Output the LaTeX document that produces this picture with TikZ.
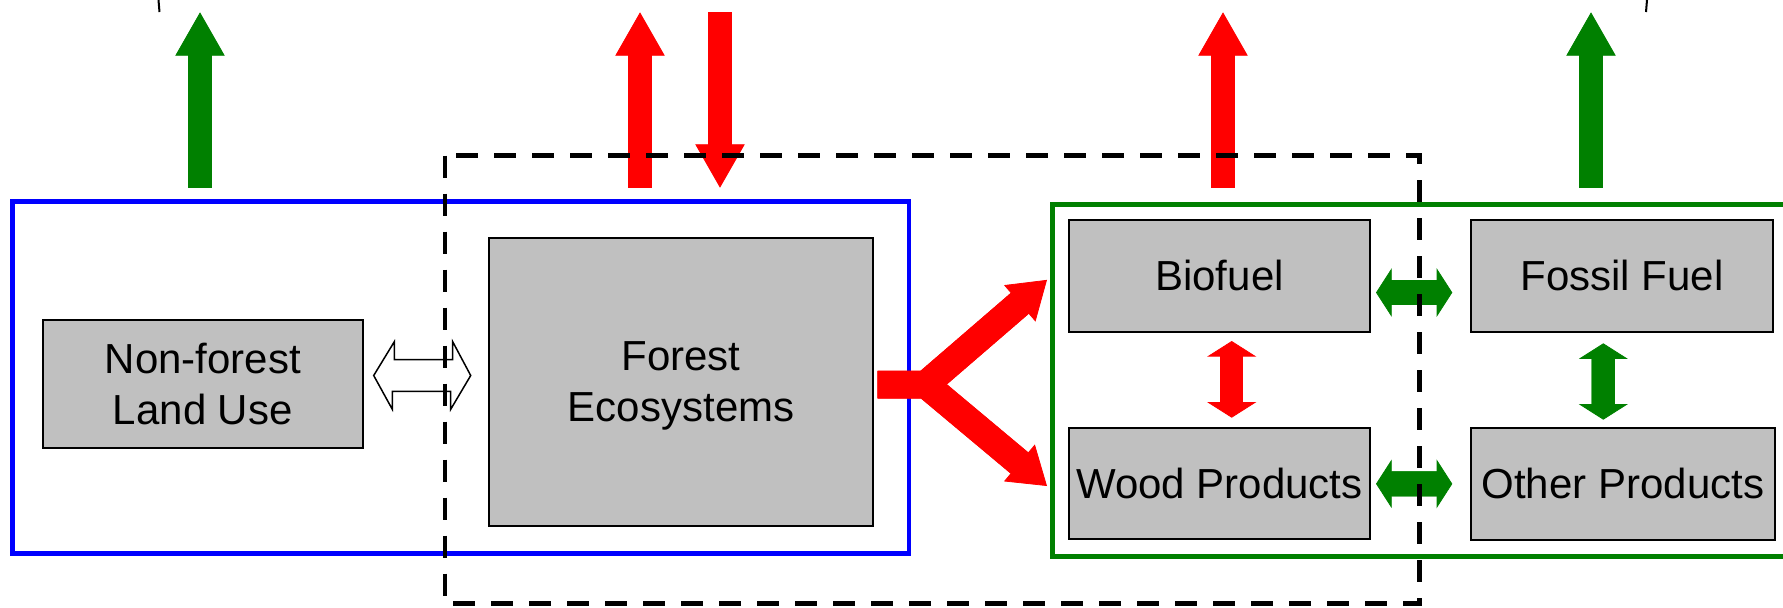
\documentclass[tikz,border=0pt]{standalone}
\usepackage{fontspec}
\setmainfont{Liberation Sans}
\usetikzlibrary{arrows.meta,calc}
\definecolor{cred}{RGB}{255,0,0}
\definecolor{cgreen}{RGB}{0,128,0}
\definecolor{cblue}{RGB}{0,0,255}
\definecolor{boxgray}{RGB}{192,192,192}
\begin{document}
\begin{tikzpicture}[x=0.5pt,y=-0.5pt,
  box/.style={draw=black, line width=1pt, fill=boxgray, inner sep=0pt, align=center,
    font=\fontsize{21pt}{25.5pt}\selectfont},
  toparrow/.style={line width=12.35pt, -{Triangle[length=21.7pt,width=24.7pt,line width=0.4pt]}},
  topshaft/.style={line width=12.35pt, shorten >=20pt},
  hdbl/.style={cgreen, line width=12.5pt,
    {Triangle[length=7.85pt,width=24.35pt,line width=0.4pt]}-{Triangle[length=7.85pt,width=24.35pt,line width=0.4pt]}},
  hshaft/.style={cgreen, line width=12.5pt, shorten <=6.5pt, shorten >=6.5pt},
  vdbl/.style={line width=11.65pt,
    {Triangle[length=7.8pt,width=24.5pt,line width=0.4pt]}-{Triangle[length=7.8pt,width=24.5pt,line width=0.4pt]}},
  vshaft/.style={line width=11.65pt, shorten <=6.5pt, shorten >=6.5pt},
  fork/.style={cred, line width=13.75pt, line join=miter,
    -{Triangle[length=18pt,width=24pt,line width=0.4pt]}},
  forkshaft/.style={cred, line width=13.75pt, line join=miter, shorten >=16.5pt},
  hollow/.style={draw=black, fill=white, line width=0.75pt, line join=miter},
  container/.style={line width=2.25pt},
  dashbox/.style={black, line width=2.25pt, dash pattern=on 11pt off 8pt}
]
\useasboundingbox (0,0) rectangle (1783,607);

% top bracket ends
\draw[line width=1pt] (158.5,0) -- (159.5,12);
\draw[line width=1pt] (1647,0) -- (1646,12);

% containers
\draw[container, cblue] (12.5,201.5) rectangle (909,553.5);
\draw[container, cgreen, line width=2.5pt] (1052,204) rectangle (1800,556);

% boxes
\node[box, minimum width=160.15pt, minimum height=64pt] (nf) at (202.85,384) {Non-forest\\Land Use};
\node[box, minimum width=192.15pt, minimum height=144pt, text depth=0pt] (forest) at (681.15,381.7) {Forest\\Ecosystems};
\node[box, minimum width=150.5pt, minimum height=55.85pt] (bio) at (1219.5,275.85) {Biofuel};
\node[box, minimum width=150.5pt, minimum height=55.5pt] (wood) at (1219.5,483.8) {Wood Products};
\node[box, minimum width=151.3pt, minimum height=55.85pt] (fos) at (1622,275.85) {Fossil Fuel};
\node[box, minimum width=152.15pt, minimum height=56.15pt] (other) at (1622.85,483.85) {Other Products};

% top arrows
\coordinate (g1a) at (200,187.7); \coordinate (g1b) at (200,12.3);
\coordinate (r1a) at (640,187.7); \coordinate (r1b) at (640,12.3);
\coordinate (r2a) at (720,12.3);  \coordinate (r2b) at (720,187.7);
\coordinate (r3a) at (1223,187.7); \coordinate (r3b) at (1223,12.3);
\coordinate (g2a) at (1591,187.7); \coordinate (g2b) at (1591,12.3);
\draw[toparrow, cgreen] (g1a) -- (g1b);
\draw[topshaft, cgreen] (g1a) -- (g1b);
\draw[toparrow, cred] (r1a) -- (r1b);
\draw[topshaft, cred] (r1a) -- (r1b);
\draw[toparrow, cred] (r2a) -- (r2b);
\draw[topshaft, cred] (r2a) -- (r2b);
\draw[toparrow, cred] (r3a) -- (r3b);
\draw[topshaft, cred] (r3a) -- (r3b);
\draw[toparrow, cgreen] (g2a) -- (g2b);
\draw[topshaft, cgreen] (g2a) -- (g2b);

% hollow double arrow
\coordinate (hl) at ([xshift=4.85pt,yshift=4.25pt]nf.east);
\coordinate (hr) at ([xshift=-8.65pt,yshift=3.1pt]forest.west);
\draw[hollow] (hl) -- ++(20.6,-33.8) -- ++(0,18) -- ++(58.4,0) -- ++(0,-18) -- (hr)
  -- ++(-20,33.8) -- ++(0,-18) -- ++(-58.4,0) -- ++(0,18) -- cycle;

% red fork
\coordinate (fs) at ([xshift=1.7pt,yshift=-1.4pt]forest.east);
\coordinate (fj) at ($(fs)+(48,0)$);
\coordinate (ft1) at ([xshift=-10.5pt,yshift=-2pt]bio.west);
\coordinate (ft2) at ([xshift=-10.5pt,yshift=-1.1pt]wood.west);
\draw[fork] (fs) -- (fj) -- (ft1);
\draw[fork] (fs) -- (fj) -- (ft2);
\draw[forkshaft] (fs) -- (fj) -- (ft1);
\draw[forkshaft] (fs) -- (fj) -- (ft2);

% product arrows
\draw[hdbl] ([xshift=2.5pt,yshift=-8.35pt]bio.east) -- ([xshift=-8.7pt,yshift=-8.35pt]fos.west);
\draw[hshaft] ([xshift=2.5pt,yshift=-8.35pt]bio.east) -- ([xshift=-8.7pt,yshift=-8.35pt]fos.west);
\draw[hdbl] ([xshift=2.5pt]wood.east) -- ([xshift=-8.7pt]other.west);
\draw[hshaft] ([xshift=2.5pt]wood.east) -- ([xshift=-8.7pt]other.west);
\draw[vdbl, cred] ([xshift=6.1pt,yshift=-4.15pt]bio.south) -- ([xshift=6.1pt,yshift=4.8pt]wood.north);
\draw[vshaft, cred] ([xshift=6.1pt,yshift=-4.15pt]bio.south) -- ([xshift=6.1pt,yshift=4.8pt]wood.north);
\draw[vdbl, cgreen] ([xshift=-9.35pt,yshift=-5.3pt]fos.south) -- ([xshift=-9.78pt,yshift=3.5pt]other.north);
\draw[vshaft, cgreen] ([xshift=-9.35pt,yshift=-5.3pt]fos.south) -- ([xshift=-9.78pt,yshift=3.5pt]other.north);

% dashed boundary on top
\draw[dashbox] (445,155.7) rectangle (1419.5,603.5);
\end{tikzpicture}
\end{document}
